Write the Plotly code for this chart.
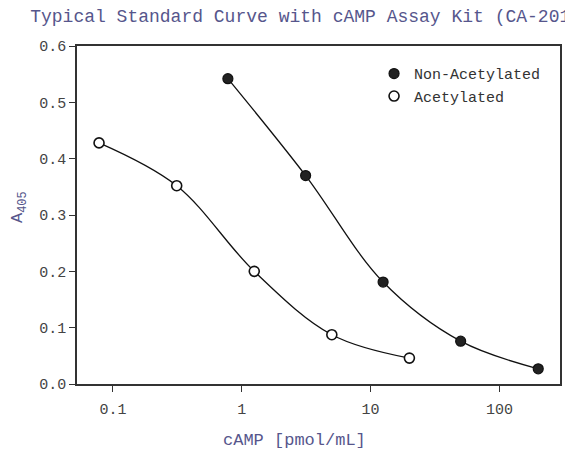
import plotly.graph_objects as go

# standard curve readings (A405) vs cAMP concentration
conc_non = [0.78, 3.13, 12.5, 50, 200]
a405_non = [0.542, 0.370, 0.181, 0.076, 0.027]

conc_acet = [0.078, 0.3125, 1.25, 5, 20]
a405_acet = [0.428, 0.352, 0.200, 0.0875, 0.046]

x_ticks = [0.1, 1, 10, 100]
x_ticktext = ['0.1', '1', '10', '100']
y_ticks = [0, 0.1, 0.2, 0.3, 0.4, 0.5, 0.6]

mono = 'Liberation Mono, Courier New, monospace'
purple = '#56568c'

# page body has an 8px margin, so the figure is a bit smaller than the window
W, H = 565, 442

fig = go.Figure()

# smooth curves (no legend)
fig.add_trace(go.Scatter(x=conc_non, y=a405_non, mode='lines',
                         line=dict(color='#111', width=1.3, shape='spline', smoothing=1),
                         showlegend=False, hoverinfo='skip'))
fig.add_trace(go.Scatter(x=conc_acet, y=a405_acet, mode='lines',
                         line=dict(color='#111', width=1.3, shape='spline', smoothing=1),
                         showlegend=False, hoverinfo='skip'))

# markers
fig.add_trace(go.Scatter(x=conc_non, y=a405_non, mode='markers', name='Non-Acetylated',
                         marker=dict(size=10, color='#222', line=dict(color='#111', width=1.2))))
fig.add_trace(go.Scatter(x=conc_acet, y=a405_acet, mode='markers', name='Acetylated',
                         marker=dict(size=10, color='white', line=dict(color='#111', width=1.6))))

axis_style = dict(showline=True, mirror=True, linecolor='#333', linewidth=1.6,
                  ticks='outside', ticklen=6, tickcolor='#333', tickwidth=1.3,
                  showgrid=False, zeroline=False, automargin=False,
                  tickfont=dict(family=mono, size=15, color='#444'))

fig.update_layout(
    width=W, height=H,
    margin=dict(l=69, r=13, t=38, b=66),
    paper_bgcolor='white', plot_bgcolor='white',
    title=dict(text='Typical Standard Curve with cAMP Assay Kit (CA-201',
               x=22.2 / W, xanchor='left', xref='container',
               y=1 - 8 / H, yanchor='middle', yref='container',
               font=dict(family=mono, size=18, color=purple)),
    xaxis=dict(type='log', range=[-1.279, 2.47], tickvals=x_ticks, ticktext=x_ticktext,
               ticklabelstandoff=4, **axis_style),
    yaxis=dict(range=[0, 0.6], tickvals=y_ticks, tickformat='.1f', **axis_style),
    legend=dict(x=0.615, y=0.9666, xanchor='left', yanchor='top',
                bgcolor='rgba(0,0,0,0)', borderwidth=0, tracegroupgap=0,
                font=dict(family=mono, size=15, color='#333')),
    annotations=[
        dict(text='cAMP [pmol/mL]', x=(294 - 77) / 483, y=(384 - 440) / 338,
             xref='paper', yref='paper', showarrow=False, xanchor='center', yanchor='middle',
             font=dict(family=mono, size=17, color=purple)),
        dict(text='A<sub>405</sub>', x=(19 - 77) / 483, y=(384 - 207) / 338,
             xref='paper', yref='paper', showarrow=False, xanchor='center', yanchor='middle',
             textangle=-90, font=dict(family=mono, size=17, color=purple)),
    ],
)

fig.write_html('out.html')
